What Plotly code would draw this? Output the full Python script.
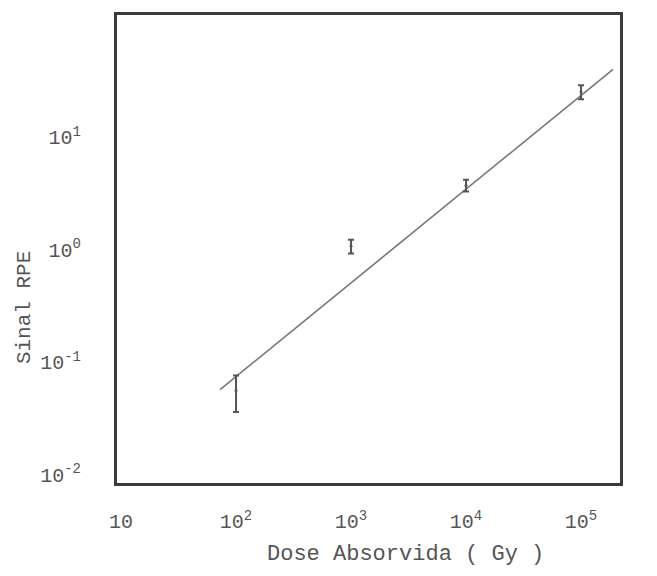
import plotly.graph_objects as go

# Data
dose = [100, 1000, 10000, 100000]
signal = [0.056, 1.08, 3.75, 25.5]
signal_err = [0.02, 0.15, 0.45, 3.6]

fit_x = [72.6, 190000]
fit_y = [0.057, 40.4]

x_tickvals = [10, 100, 1000, 10000, 100000]
x_ticktext = ["10", "10<sup>2</sup>", "10<sup>3</sup>", "10<sup>4</sup>", "10<sup>5</sup>"]
y_tickvals = [0.01, 0.1, 1, 10]
y_ticktext = ["10<sup>-2</sup>", "10<sup>-1</sup>", "10<sup>0</sup>", "10<sup>1</sup>"]

FONT = "Liberation Mono, Courier New, monospace"
TXT = "#555555"

fig = go.Figure()
fig.add_trace(go.Scatter(
    x=fit_x, y=fit_y, mode="lines",
    line=dict(color="#777777", width=1.6),
    showlegend=False, hoverinfo="skip",
))
fig.add_trace(go.Scatter(
    x=dose, y=signal, mode="markers",
    marker=dict(size=3, color="#555555"),
    error_y=dict(type="data", array=signal_err, visible=True,
                 color="#555555", thickness=2, width=3),
    showlegend=False,
))

fig.update_layout(
    width=657, height=576,
    margin=dict(l=109, r=45, t=4, b=101),
    paper_bgcolor="white", plot_bgcolor="white",
    font=dict(family=FONT, size=20, color=TXT),
    xaxis=dict(
        type="log", range=[0.965, 5.339],
        tickmode="array", tickvals=x_tickvals, ticktext=x_ticktext,
        showgrid=False, zeroline=False, ticks="",
        showline=True, mirror=True, linewidth=3, linecolor="#3a3a3a",
        ticklabelstandoff=18,
        tickfont=dict(family=FONT, size=20, color=TXT),
    ),
    yaxis=dict(
        type="log", range=[-2.075, 2.09],
        tickmode="array", tickvals=y_tickvals, ticktext=y_ticktext,
        showgrid=False, zeroline=False, ticks="",
        showline=True, mirror=True, linewidth=3, linecolor="#3a3a3a",
        ticklabelstandoff=29,
        tickfont=dict(family=FONT, size=20, color=TXT),
    ),
    annotations=[
        dict(text="Dose Absorvida ( Gy )", xref="paper", yref="paper",
             x=(405 - 117) / 503, y=-(555 - 483) / 471,
             xanchor="center", yanchor="middle", showarrow=False,
             font=dict(family=FONT, size=22, color=TXT)),
        dict(text="Sinal RPE", xref="paper", yref="paper",
             x=-(117 - 24) / 503, y=(483 - 307) / 471, textangle=-90,
             xanchor="center", yanchor="middle", showarrow=False,
             font=dict(family=FONT, size=21, color=TXT)),
    ],
)

fig.write_html("out.html")
